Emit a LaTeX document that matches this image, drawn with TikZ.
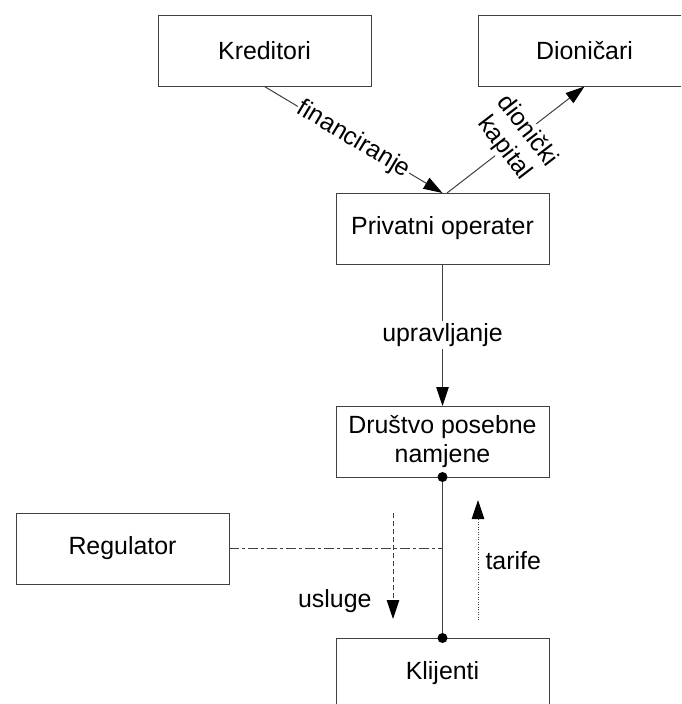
\documentclass[tikz,border=0pt]{standalone}
\usepackage{fontspec}
\setmainfont{Liberation Sans}
\usetikzlibrary{arrows.meta}
\begin{document}
\begin{tikzpicture}[x=1pt,y=-1pt,
  every node/.style={font=\fontsize{24.9}{28.5}\selectfont, text=black},
  box/.style={draw=black!75, line width=1pt, rectangle, minimum width=213pt, minimum height=71pt, inner sep=0pt, outer sep=0pt, align=center},
  conn/.style={draw=black!75, line width=1pt},
  tip/.style={-{Triangle[length=19pt,width=12.5pt,black]}},
  lbl/.style={fill=white, inner sep=1pt}
]
\clip (0,0) rectangle (681,704);
\fill[white] (0,0) rectangle (681,704);

\node[box] (kred) at (264.5,51) {Kreditori};
\node[box] (dion) at (584.5,51) {Dioničari};
\node[box] (priv) at (442.5,228.5) {Privatni operater};
\node[box] (drus) at (442.5,441.5) {Društvo posebne\\namjene};
\node[box] (reg) at (122.5,548.5) {Regulator};
\node[box] (klij) at (442.5,673.5) {Klijenti};

\draw[conn,tip] (kred.south) -- node[lbl, sloped, midway] {financiranje} (priv.north);
\draw[conn,tip] ([xshift=4.5pt]priv.north) -- node[lbl, midway, rotate=-52.5, align=center, inner sep=0pt] {dionički\\kapital} (dion.south);
\draw[conn,tip] (priv.south) -- node[lbl, midway, inner sep=2pt] {upravljanje} (drus.north);

\draw[conn] (drus.south) -- (klij.north);
\fill[black] (drus.south) circle (5pt);
\fill[black] (klij.north) circle (5pt);

\coordinate (regend) at (reg.east -| drus.south);
\draw[conn, dash pattern=on 10pt off 3pt on 3pt off 3pt] (reg.east) -- (regend);

\coordinate (uslA) at (393,513);
\coordinate (uslB) at (393,619);
\draw[conn, tip, dash pattern=on 5pt off 3pt] (uslA) -- (uslB);
\node[anchor=east] (usl) at (375,601) {usluge};

\coordinate (tarA) at (478,620);
\coordinate (tarB) at (478,500);
\draw[conn, tip, dash pattern=on 1pt off 1.5pt] (tarA) -- (tarB);
\node[anchor=west] (tar) at (482,561) {tarife};
\end{tikzpicture}
\end{document}
